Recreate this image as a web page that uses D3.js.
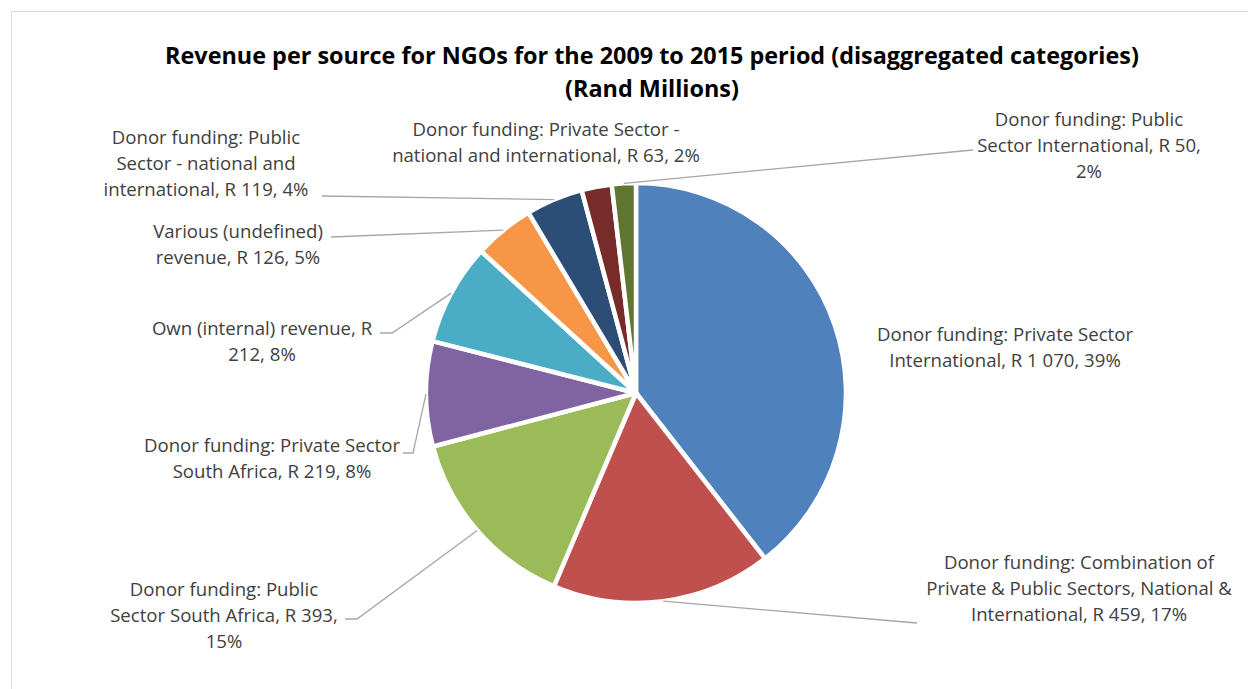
<!DOCTYPE html>
<html>
<head>
<meta charset="utf-8">
<script src="https://cdn.jsdelivr.net/npm/d3@7"></script>
<style>
  html, body { margin: 0; padding: 0; background: #ffffff; }
  svg { display: block; }
  text { font-family: "Open Sans", "Noto Sans", sans-serif; }
</style>
</head>
<body>
<svg id="chart" width="1248" height="689"></svg>
<script>
// Revenue per source, Rand millions (2009-2015)
const categories = [
  "Donor funding: Private Sector International",
  "Donor funding: Combination of Private & Public Sectors, National & International",
  "Donor funding: Public Sector South Africa",
  "Donor funding: Private Sector South Africa",
  "Own (internal) revenue",
  "Various (undefined) revenue",
  "Donor funding: Public Sector - national and international",
  "Donor funding: Private Sector - national and international",
  "Donor funding: Public Sector International"
];
const values = [1070, 459, 393.4, 219, 212, 126, 119, 63, 50];
const colors = ["#4F81BD", "#C0504D", "#9BBB59", "#8064A2", "#4BACC6",
                "#F79646", "#2C4D75", "#772C2A", "#5F7530"];
const titleLines = [
  "Revenue per source for NGOs for the 2009 to 2015 period (disaggregated categories)",
  "(Rand Millions)"
];

// Label placement: centre x, first line y, words per line, leader line points (label side)
const labelLayout = [
  { x: 1005, y: 333, words: [4, 5], leader: null },
  { x: 1079, y: 561, words: [4, 6, 4], leader: [[917, 623], [905, 622]] },
  { x: 224, y: 588, words: [3, 5, 1], leader: [[345, 619], [357, 619]] },
  { x: 272, y: 444, words: [4, 5], leader: [[403, 453], [413, 453]] },
  { x: 262, y: 327, words: [4, 2], leader: [[380, 333], [392, 333]] },
  { x: 238, y: 230, words: [2, 4], leader: [[331, 237]] },
  { x: 206, y: 136, words: [3, 4, 4], leader: [[322, 196]] },
  { x: 546, y: 128, words: [5, 6], leader: null },
  { x: 1089, y: 118, words: [3, 4, 1], leader: [[973, 150]] }
];

const svg = d3.select("#chart");
const W = 1248, H = 689;

// Chart area frame
svg.append("rect")
  .attr("x", 11.5).attr("y", 11.5)
  .attr("width", W).attr("height", H)
  .attr("fill", "#ffffff")
  .attr("stroke", "#d9d9d9").attr("stroke-width", 1);

// Title
svg.append("g").selectAll("text")
  .data(titleLines)
  .join("text")
  .attr("x", 652)
  .attr("y", (d, i) => 55 + i * 33)
  .attr("text-anchor", "middle")
  .attr("dominant-baseline", "central")
  .attr("font-size", 23.4)
  .attr("font-weight", "bold")
  .attr("fill", "#000000")
  .text(d => d);

const cx = 636, cy = 393, R = 210;
const total = d3.sum(values);

const pie = d3.pie().sort(null).value(d => d)(values);
const arc = d3.arc().innerRadius(0).outerRadius(R);
const edge = d3.arc().innerRadius(R).outerRadius(R);

const g = svg.append("g").attr("transform", `translate(${cx},${cy})`);

g.selectAll("path.slice")
  .data(pie)
  .join("path")
  .attr("class", "slice")
  .attr("d", arc)
  .attr("fill", (d, i) => colors[i])
  .attr("stroke", "#ffffff")
  .attr("stroke-width", 4.5)
  .attr("stroke-linejoin", "round");

// Leader lines from the label to the middle of each slice's rim
const line = d3.line();
pie.forEach((d, i) => {
  const lay = labelLayout[i];
  if (!lay.leader) return;
  const [ex, ey] = edge.centroid(d);
  const pts = lay.leader.concat([[cx + ex, cy + ey]]);
  svg.append("path")
    .attr("d", line(pts))
    .attr("fill", "none")
    .attr("stroke", "#a6a6a6")
    .attr("stroke-width", 1.3);
});

// Data labels: category, value and share
const fmtVal = v => d3.format(",.0f")(v).replace(/,/g, " ");
const fmtPct = v => Math.round(v / total * 100) + "%";

pie.forEach((d, i) => {
  const lay = labelLayout[i];
  const full = `${categories[i]}, R ${fmtVal(values[i])}, ${fmtPct(values[i])}`;
  const words = full.split(" ");
  const lines = [];
  let k = 0;
  lay.words.forEach(n => { lines.push(words.slice(k, k + n).join(" ")); k += n; });
  svg.append("g").selectAll("text")
    .data(lines)
    .join("text")
    .attr("x", lay.x)
    .attr("y", (t, j) => lay.y + j * 26)
    .attr("text-anchor", "middle")
    .attr("dominant-baseline", "central")
    .attr("font-size", 18.6)
    .attr("fill", "#404040")
    .text(t => t);
});
</script>
</body>
</html>
